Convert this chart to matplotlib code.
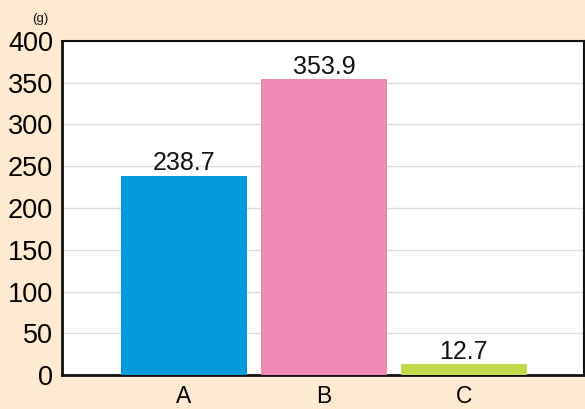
import matplotlib
matplotlib.use("Agg")
import matplotlib.pyplot as plt

categories = ["A", "B", "C"]
values = [238.7, 353.9, 12.7]
value_labels = ["238.7", "353.9", "12.7"]
colors = ["#0099DA", "#EE88B4", "#C3D94E"]
yticks = [0, 50, 100, 150, 200, 250, 300, 350, 400]

plt.rcParams['font.family'] = ['Liberation Sans', 'DejaVu Sans']
bg = "#FDEAD0"
fig = plt.figure(figsize=(5.85, 4.09), dpi=100, facecolor=bg)
ax = fig.add_axes([0.106, 0.0831, 0.892, 0.8167])
ax.set_facecolor("white")

x = list(range(len(categories)))
ax.bar(x, values, width=0.9, color=colors, zorder=3)
for xi, v, lab in zip(x, values, value_labels):
    ax.text(xi, v + 7, lab, ha="center", va="baseline", fontsize=18, color="#111111", zorder=4)

ax.set_xlim(-0.871, 2.857)
ax.set_ylim(0, 400)
ax.set_yticks(yticks)
ax.set_yticklabels([str(t) for t in yticks], fontsize=19.5)
ax.set_xticks(x)
ax.set_xticklabels(categories, fontsize=16.5)
ax.tick_params(axis="both", length=0)
ax.tick_params(axis="y", pad=6.5)
ax.tick_params(axis="x", pad=7)
ax.grid(axis="y", color="#DDDDDD", linewidth=1, zorder=0)
for s in ["left", "bottom", "top", "right"]:
    ax.spines[s].set_color("#111111")
ax.spines["left"].set_linewidth(2)
ax.spines["bottom"].set_linewidth(2)
ax.spines["top"].set_linewidth(1.5)
ax.spines["right"].set_linewidth(1.5)

fig.text(40 / 585, 1 - 19 / 409, "(g)", fontsize=9.5, ha="center", va="center", color="#111111")

fig.savefig("out.png", dpi=100, facecolor=bg)
